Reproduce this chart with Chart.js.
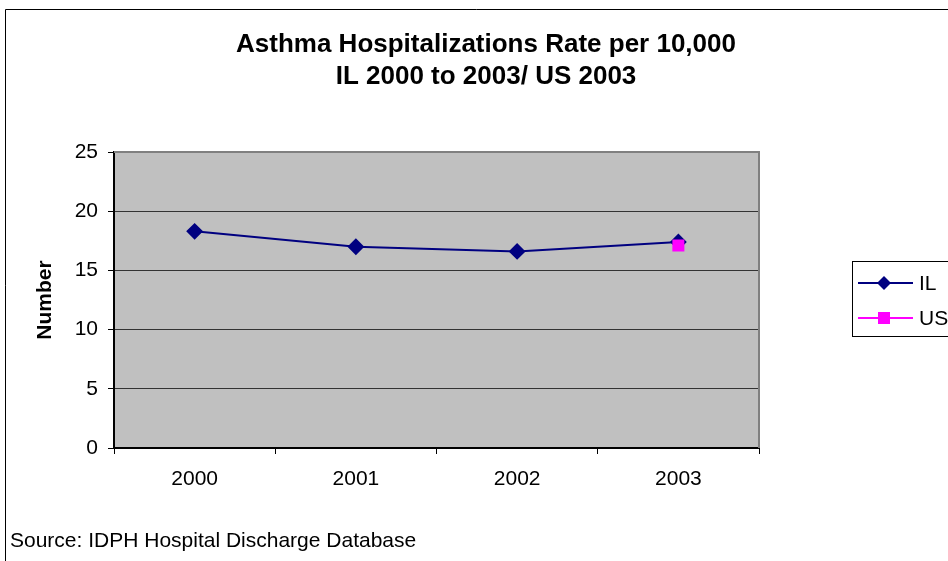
<!DOCTYPE html>
<html>
<head>
<meta charset="utf-8">
<script src="https://cdn.jsdelivr.net/npm/chart.js@4"></script>
<style>
  html, body { margin: 0; padding: 0; background: #fff; overflow: hidden; }
  canvas { display: block; }
</style>
</head>
<body>
<canvas id="myChart" width="948" height="561"></canvas>
<script>
// datos
const years = ['2000', '2001', '2002', '2003'];
const ilRates = [18.3, 17.0, 16.6, 17.4];
const usRates = [null, null, null, 17.1];
const yTicks = [0, 5, 10, 15, 20, 25];
const titleLines = ['Asthma Hospitalizations Rate per 10,000', 'IL 2000 to 2003/ US 2003'];
const sourceText = 'Source: IDPH Hospital Discharge Database';

const FONT = '"Liberation Sans", Arial, sans-serif';

// fondo gris del área de trazado, marco, título, leyenda y fuente
const excelLook = {
  id: 'excelLook',
  beforeDraw(chart) {
    const ctx = chart.ctx;
    const a = chart.chartArea;
    ctx.save();
    ctx.fillStyle = '#fff';
    ctx.fillRect(0, 0, chart.width, chart.height);
    ctx.fillStyle = '#c0c0c0';
    ctx.fillRect(a.left, a.top, a.right - a.left, a.bottom - a.top);
    ctx.restore();
  },
  beforeDatasetsDraw(chart) {
    const ctx = chart.ctx;
    const a = chart.chartArea;
    ctx.save();
    ctx.strokeStyle = '#808080';
    ctx.lineWidth = 2;
    ctx.beginPath();
    ctx.moveTo(a.left, a.top);
    ctx.lineTo(a.right, a.top);
    ctx.lineTo(a.right, a.bottom);
    ctx.stroke();
    ctx.restore();
  },
  afterDraw(chart) {
    const ctx = chart.ctx;
    ctx.save();
    // marco exterior
    ctx.strokeStyle = '#000';
    ctx.lineWidth = 1;
    ctx.beginPath();
    ctx.moveTo(5.5, chart.height);
    ctx.lineTo(5.5, 9.5);
    ctx.lineTo(chart.width, 9.5);
    ctx.stroke();

    // título
    ctx.fillStyle = '#000';
    ctx.textAlign = 'center';
    ctx.textBaseline = 'middle';
    ctx.font = 'bold 26px ' + FONT;
    ctx.fillText(titleLines[0], 486, 45);
    ctx.fillText(titleLines[1], 486, 77);

    // fuente
    ctx.textAlign = 'left';
    ctx.font = '21px ' + FONT;
    ctx.fillText(sourceText, 10, 541);

    // leyenda
    const lx = 852, ly = 261, lw = 110, lh = 75;
    ctx.fillStyle = '#fff';
    ctx.fillRect(lx, ly, lw, lh);
    ctx.strokeStyle = '#000';
    ctx.lineWidth = 1;
    ctx.strokeRect(lx + 0.5, ly + 0.5, lw, lh);
    const rows = [283, 318];
    chart.data.datasets.forEach((ds, i) => {
      const y = rows[i];
      ctx.strokeStyle = ds.borderColor;
      ctx.lineWidth = 2;
      ctx.beginPath();
      ctx.moveTo(858, y);
      ctx.lineTo(913, y);
      ctx.stroke();
      ctx.fillStyle = ds.pointBackgroundColor;
      ctx.beginPath();
      if (ds.pointStyle === 'rectRot') {
        const r = 7;
        ctx.moveTo(884, y - r);
        ctx.lineTo(884 + r, y);
        ctx.lineTo(884, y + r);
        ctx.lineTo(884 - r, y);
        ctx.closePath();
      } else {
        ctx.rect(884 - 6, y - 6, 12, 12);
      }
      ctx.fill();
      ctx.fillStyle = '#000';
      ctx.font = '21px ' + FONT;
      ctx.textAlign = 'left';
      ctx.textBaseline = 'middle';
      ctx.fillText(ds.label, 919, y + 1);
    });
    ctx.restore();
  }
};

new Chart(document.getElementById('myChart'), {
  type: 'line',
  data: {
    labels: years,
    datasets: [{
      label: 'IL',
      data: ilRates,
      order: 1,
      borderColor: '#000080',
      backgroundColor: '#000080',
      pointBackgroundColor: '#000080',
      pointBorderColor: '#000080',
      pointStyle: 'rectRot',
      pointRadius: 7,
      borderWidth: 2,
      tension: 0
    }, {
      label: 'US',
      data: usRates,
      order: 0,
      borderColor: '#ff00ff',
      backgroundColor: '#ff00ff',
      pointBackgroundColor: '#ff00ff',
      pointBorderColor: '#ff00ff',
      pointStyle: 'rect',
      pointRadius: 8.5,
      borderWidth: 0,
      tension: 0
    }]
  },
  options: {
    responsive: false,
    animation: false,
    layout: {
      padding: { left: 0, top: 152, right: 189, bottom: 0 }
    },
    plugins: {
      legend: { display: false },
      title: { display: false },
      tooltip: { enabled: false }
    },
    scales: {
      x: {
        offset: true,
        grid: {
          offset: true,
          drawOnChartArea: false,
          drawTicks: true,
          tickLength: 6,
          tickColor: '#000',
          tickWidth: 1
        },
        border: { display: true, color: '#000', width: 2 },
        ticks: {
          color: '#000',
          font: { family: FONT, size: 21 },
          padding: 13,
          maxRotation: 0
        },
        afterFit(scale) { scale.height = 113; }
      },
      y: {
        min: 0,
        max: 25,
        afterBuildTicks(scale) { scale.ticks = yTicks.map(v => ({ value: v })); },
        grid: {
          color: '#333',
          lineWidth: 1,
          drawTicks: true,
          tickLength: 6,
          tickColor: '#000'
        },
        border: { display: true, color: '#000', width: 2 },
        ticks: {
          color: '#000',
          font: { family: FONT, size: 21 },
          padding: 10
        },
        title: {
          display: true,
          text: 'Number',
          color: '#000',
          font: { family: FONT, size: 21, weight: 'bold' },
          padding: { top: 33, bottom: 0 }
        },
        afterFit(scale) { scale.width = 114; }
      }
    }
  },
  plugins: [excelLook]
});
</script>
</body>
</html>
